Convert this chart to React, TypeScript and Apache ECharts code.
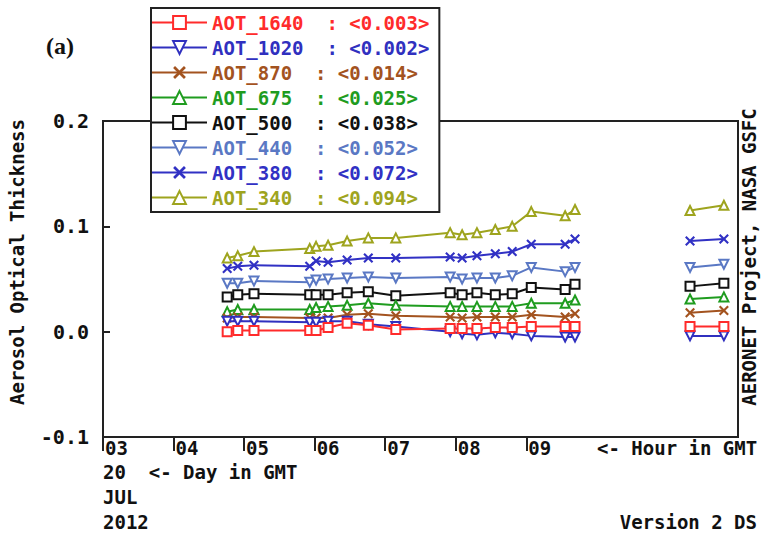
import React, { useEffect, useRef } from "react";
import * as echarts from "echarts";

// Observation times (hour of day, GMT) on 20 July 2012
const hours = [4.76, 4.91, 5.14, 5.93, 6.02, 6.19, 6.46, 6.76, 7.15, 7.92, 8.09, 8.3, 8.56, 8.8, 9.07, 9.55, 9.69, 11.32, 11.8];

// Aerosol optical thickness per wavelength channel
const aot1640 = [0.0, 0.001, 0.001, 0.001, 0.001, 0.004, 0.008, 0.006, 0.002, 0.003, 0.003, 0.003, 0.004, 0.004, 0.005, 0.005, 0.005, 0.005, 0.005];
const aot1020 = [0.01, 0.01, 0.01, 0.009, 0.009, 0.01, 0.01, 0.007, 0.005, 0.0, -0.002, -0.003, -0.001, -0.002, -0.004, -0.005, -0.005, -0.004, -0.004];
const aot870 = [0.013, 0.014, 0.014, 0.013, 0.013, 0.013, 0.016, 0.017, 0.015, 0.014, 0.013, 0.014, 0.014, 0.014, 0.016, 0.014, 0.017, 0.018, 0.02];
const aot675 = [0.019, 0.021, 0.021, 0.021, 0.023, 0.024, 0.025, 0.027, 0.025, 0.024, 0.024, 0.024, 0.024, 0.024, 0.027, 0.027, 0.03, 0.031, 0.033];
const aot500 = [0.033, 0.035, 0.036, 0.035, 0.035, 0.035, 0.037, 0.038, 0.034, 0.037, 0.035, 0.037, 0.035, 0.036, 0.042, 0.04, 0.045, 0.043, 0.046];
const aot440 = [0.046, 0.046, 0.048, 0.047, 0.049, 0.05, 0.051, 0.052, 0.051, 0.052, 0.05, 0.051, 0.051, 0.053, 0.061, 0.057, 0.061, 0.061, 0.064];
const aot380 = [0.06, 0.062, 0.063, 0.062, 0.067, 0.066, 0.068, 0.07, 0.07, 0.071, 0.07, 0.072, 0.074, 0.076, 0.083, 0.083, 0.088, 0.086, 0.088];
const aot340 = [0.07, 0.072, 0.076, 0.079, 0.081, 0.082, 0.086, 0.089, 0.089, 0.094, 0.092, 0.094, 0.097, 0.1, 0.114, 0.11, 0.116, 0.115, 0.12];

const channelNames = ["AOT_1640", "AOT_1020", "AOT_870", "AOT_675", "AOT_500", "AOT_440", "AOT_380", "AOT_340"];
const channelValues = [aot1640, aot1020, aot870, aot675, aot500, aot440, aot380, aot340];
const channelMeans = ["0.003", "0.002", "0.014", "0.025", "0.038", "0.052", "0.072", "0.094"];

// Labelled hours on the time axis
const hourTicks = [3, 4, 5, 6, 7, 8, 9];

const colors = ["#ff2b2b", "#3030bf", "#a3531f", "#1f9c1f", "#111111", "#5a78c4", "#3131c4", "#9ea41e"];
const CROSS = "path://M0,1.5L1.5,0L5,3.5L8.5,0L10,1.5L6.5,5L10,8.5L8.5,10L5,6.5L1.5,10L0,8.5L3.5,5Z";
const symbols = ["emptyRect", "emptyTriangle", CROSS, "emptyTriangle", "emptyRect", "emptyTriangle", CROSS, "emptyTriangle"];
const symbolRotations = [0, 180, 0, 0, 0, 180, 0, 0];

const MONO = '"DejaVu Sans Mono", monospace';
const FS = 19;
const FRAME = "#222";

// Break the line wherever the record has a long interruption
function toPoints(values: number[]) {
  const pts: any[] = [];
  values.forEach((v, i) => {
    if (i > 0 && hours[i] - hours[i - 1] > 1) {
      pts.push([(hours[i] + hours[i - 1]) / 2, "-"]);
    }
    pts.push([hours[i], v]);
  });
  return pts;
}

function monoText(text: string, x: number, y: number, extra: any = {}) {
  return {
    type: "text",
    x,
    y,
    silent: true,
    ...extra,
    style: {
      text,
      fill: "#111",
      font: `bold ${FS}px ${MONO}`,
      textAlign: extra.align || "left",
      align: extra.align || "left",
      textVerticalAlign: "middle",
      verticalAlign: "middle",
    },
  };
}

export default function App() {
  const ref = useRef<HTMLDivElement>(null);

  useEffect(() => {
    if (!ref.current) return;
    const chart = echarts.init(ref.current, null, { renderer: "svg" });

    const series = channelNames.map((name, i) => ({
      name,
      type: "line",
      data: toPoints(channelValues[i]),
      symbol: symbols[i],
      symbolRotate: symbolRotations[i],
      symbolSize: symbols[i] === CROSS ? 10 : 9,
      connectNulls: false,
      lineStyle: { color: colors[i], width: 2 },
      itemStyle: { color: colors[i] },
      z: 10 - i,
    }));

    chart.setOption({
      animation: false,
      backgroundColor: "#fff",
      grid: {
        left: 103,
        top: 121,
        width: 635,
        height: 316,
        show: true,
        borderColor: FRAME,
        borderWidth: 2,
        backgroundColor: "transparent",
      },
      xAxis: {
        type: "value",
        min: 3,
        max: 12,
        interval: 1,
        axisLine: { show: true, onZero: false, lineStyle: { color: FRAME, width: 2 } },
        splitLine: { show: false },
        axisTick: {
          show: true,
          customValues: hourTicks,
          length: 14,
          inside: false,
          lineStyle: { color: FRAME, width: 2 },
        },
        axisLabel: {
          customValues: hourTicks,
          formatter: (v: number) => String(v).padStart(2, "0"),
          align: "left",
          verticalAlign: "middle",
          margin: 11,
          padding: [0, 0, 0, 2],
          color: "#111",
          fontFamily: MONO,
          fontWeight: "bold",
          fontSize: FS,
        },
      },
      yAxis: {
        type: "value",
        min: -0.1,
        max: 0.2,
        interval: 0.1,
        axisLine: { show: true, onZero: false, lineStyle: { color: FRAME, width: 2 } },
        splitLine: { show: false },
        axisTick: {
          show: true,
          inside: true,
          length: 7,
          lineStyle: { color: FRAME, width: 2 },
        },
        axisLabel: {
          formatter: (v: number) => (Math.abs(v) < 1e-9 ? "0.0" : v.toFixed(1)),
          margin: 14,
          padding: [8, 0, 0, 0],
          color: "#111",
          fontFamily: MONO,
          fontWeight: "bold",
          fontSize: 20,
        },
      },
      legend: {
        orient: "vertical",
        left: 151,
        top: 8,
        padding: [5, 10, 5, 0],
        itemWidth: 55,
        itemHeight: 16,
        itemGap: 6,
        backgroundColor: "#fff",
        borderColor: FRAME,
        borderWidth: 2,
        borderRadius: 0,
        selectedMode: false,
        data: channelNames.map((n, i) => ({ name: n, textStyle: { color: colors[i] } })),
        formatter: (n: string) => `${n}  : <${channelMeans[channelNames.indexOf(n)]}>`,
        textStyle: { fontFamily: MONO, fontWeight: "bold", fontSize: FS, lineHeight: 16 },
      },
      graphic: [
        {
          type: "text",
          x: 46,
          y: 46,
          silent: true,
          style: {
            text: "(a)",
            fill: "#111",
            font: 'bold 24px "Liberation Serif", serif',
            textVerticalAlign: "middle",
            verticalAlign: "middle",
          },
        },
        monoText("Aerosol Optical Thickness", 17, 262, { rotation: Math.PI / 2, align: "center" }),
        monoText("AERONET Project, NASA GSFC", 749, 257, { rotation: Math.PI / 2, align: "center" }),
        monoText("<- Hour in GMT", 597, 448),
        monoText("20  <- Day in GMT", 103, 472),
        monoText("JUL", 103, 497),
        monoText("2012", 103, 522),
        monoText("Version 2 DS", 757, 522, { align: "right" }),
      ],
      series,
    });

    return () => chart.dispose();
  }, []);

  return (
    <div
      ref={ref}
      style={{ position: "fixed", left: 0, top: 0, width: 762, height: 536, background: "#fff" }}
    />
  );
}
